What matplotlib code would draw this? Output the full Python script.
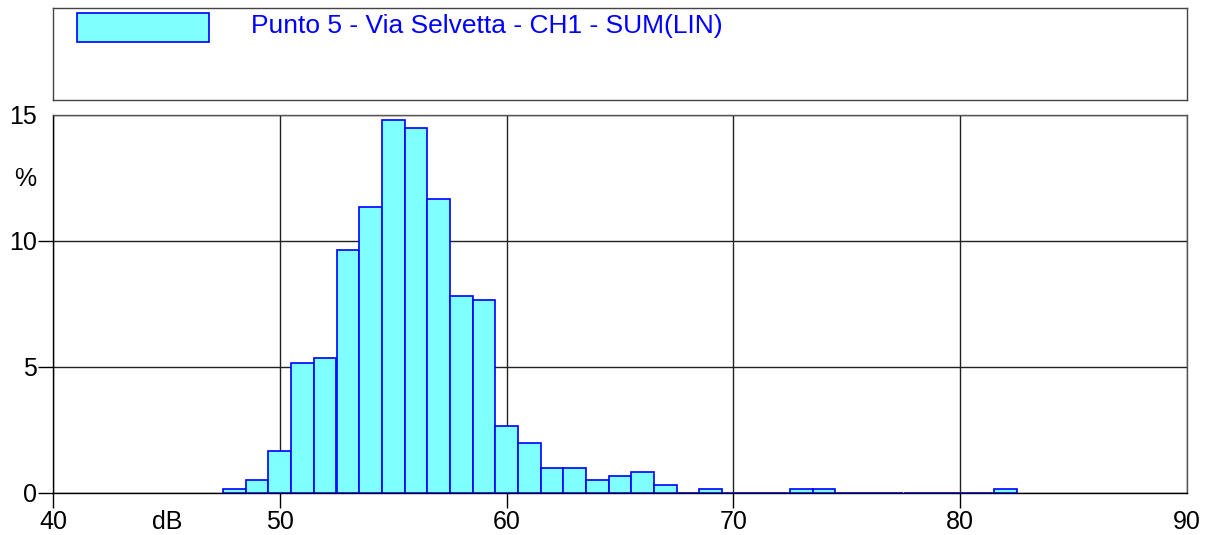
import matplotlib
matplotlib.use("Agg")
import matplotlib.pyplot as plt
from matplotlib.patches import Rectangle

plt.rcParams['font.family'] = ['Liberation Sans', 'DejaVu Sans']

# Data: sound level classes (dB, 1 dB bins centred on integer) and percentages
levels = list(range(48, 83))
percent = [0.17, 0.52, 1.67, 5.15, 5.34, 9.66, 11.33, 14.81, 14.47, 11.66,
           7.81, 7.65, 2.66, 2.0, 1.0, 1.0, 0.52, 0.67, 0.83, 0.32,
           0.0, 0.17, 0.0, 0.0, 0.0, 0.17, 0.17, 0.0, 0.0, 0.0,
           0.0, 0.0, 0.0, 0.0, 0.17]
series_label = "Punto 5 - Via Selvetta - CH1 - SUM(LIN)"
x_ticks = [40, 50, 60, 70, 80, 90]
y_ticks = [0, 5, 10, 15]

W, H = 1210, 535
fig = plt.figure(figsize=(W / 100, H / 100), dpi=100)

L, R = 53 / W, 1187 / W
ax = fig.add_axes([L, 1 - 493 / H, R - L, (493 - 115) / H])
ax.bar(levels, percent, width=1.0, align='center', color='#80FFFF',
       edgecolor='#0000FF', linewidth=1.2, zorder=3)
ax.set_xlim(40, 90)
ax.set_ylim(0, 15)
ax.set_xticks(x_ticks)
ax.set_yticks(y_ticks)
ax.tick_params(axis='both', labelsize=18, length=11, width=1, color='black',
               direction='out')
ax.tick_params(axis='x', pad=1)
ax.tick_params(axis='y', pad=0.5)
# the outer-most ticks (15 % and 90 dB) carry no tick mark
ax.xaxis.get_major_ticks()[-1].tick1line.set_visible(False)
ax.yaxis.get_major_ticks()[-1].tick1line.set_visible(False)
ax.grid(True, color='#222222', linewidth=1, zorder=1)
for s in ax.spines.values():
    s.set_color('#555555')
    s.set_linewidth(1)
ax.spines['left'].set_color('black')
ax.spines['bottom'].set_color('black')
fig.text(25 / W, 1 - 179 / H, '%', fontsize=18, ha='center', va='center')
fig.text(167 / W, 1 - 522 / H, 'dB', fontsize=18, ha='center', va='center')

# legend box
lax = fig.add_axes([L, 1 - 100 / H, R - L, 92 / H])
lax.set_xlim(0, 1)
lax.set_ylim(0, 1)
lax.set_xticks([])
lax.set_yticks([])
for s in lax.spines.values():
    s.set_color('#444444')
    s.set_linewidth(1)
lax.add_patch(Rectangle((24 / 1134, (100 - 42) / 92), 132 / 1134, 29 / 92,
                        facecolor='#80FFFF', edgecolor='#0000FF', linewidth=1.2))
lax.text(198 / 1134, (100 - 26) / 92, series_label, color='#0000FF',
         fontsize=19, ha='left', va='center')

fig.savefig('out.png', dpi=100)
